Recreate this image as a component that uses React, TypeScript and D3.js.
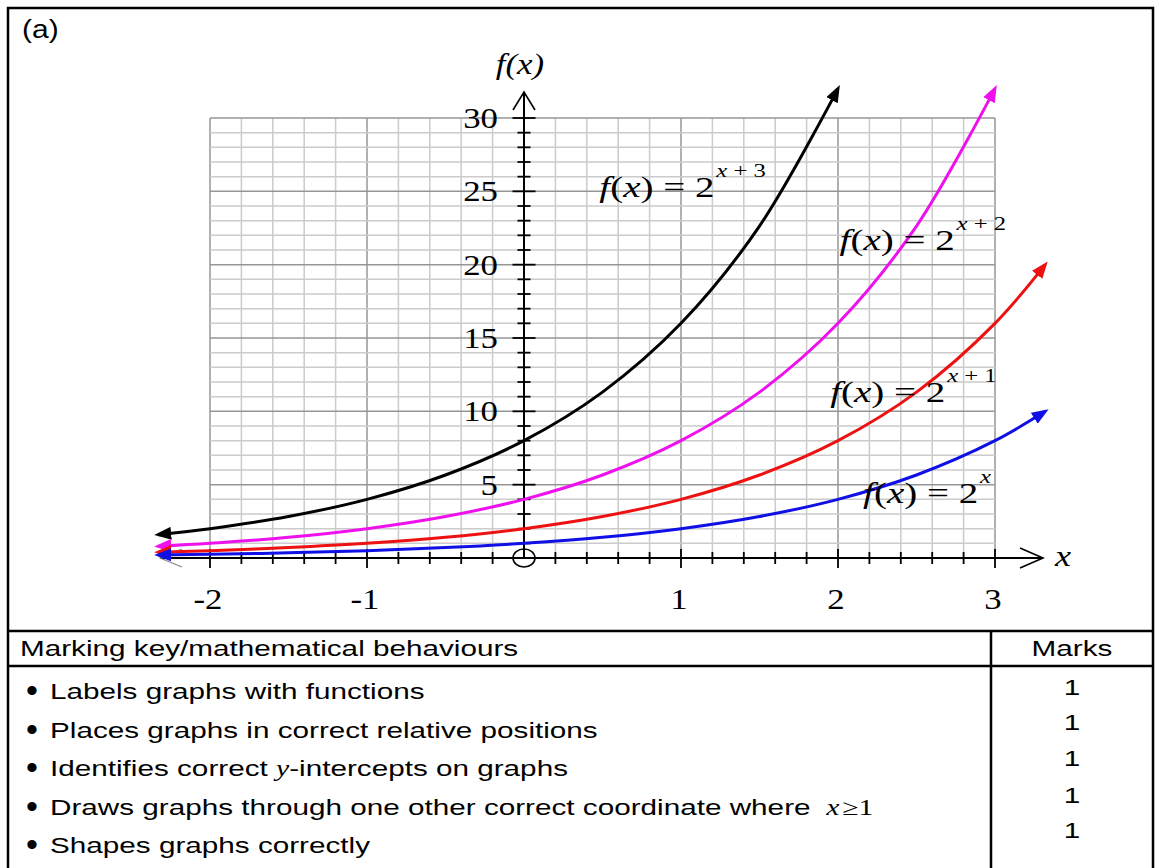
import React, { useRef, useEffect } from "react";
import * as d3 from "d3";

// tick labels
const xTickLabels = [-2, -1, 1, 2, 3];
const yTickLabels = [5, 10, 15, 20, 25, 30];

// sample x positions shared by the four curves
const xSamples = [-2.33, -2, -1.5, -1, -0.5, 0, 0.5, 1, 1.5, 2, 2.5, 3, 3.32];
// f(x) at those x
const blueVals = [0.2, 0.25, 0.35, 0.5, 0.71, 1, 1.41, 2, 2.83, 4, 5.66, 8, 10];
const redVals = [0.4, 0.5, 0.71, 1, 1.41, 2, 2.83, 4, 5.66, 8, 11.31, 16, 20];
const magentaVals = [0.8, 1, 1.41, 2, 2.83, 4, 5.66, 8, 11.31, 16, 22.63, 32];
const blackVals = [1.59, 2, 2.83, 4, 5.66, 8, 11.31, 16, 22.63, 32];
const exponents = ["x", "x + 1", "x + 2", "x + 3"];

// table
const criteria = [
  "Labels graphs with functions",
  "Places graphs in correct relative positions",
  "Identifies correct y-intercepts on graphs",
  "Draws graphs through one other correct coordinate where",
  "Shapes graphs correctly",
];
const marks = [1, 1, 1, 1, 1];

const SANS = "'Liberation Sans', Arial, sans-serif";
const SERIF = "'Liberation Serif', 'Times New Roman', serif";
const colors = ["#1010e6", "#ee1111", "#ee11ee", "#000000"];
// label anchors (data units) for f(x) = 2^x ... 2^(x+3)
const labelAnchors = [[2.16, 3.75], [1.95, 10.63], [2.01, 21.0], [0.48, 24.6]];

export default function App() {
  const ref = useRef<SVGSVGElement>(null);

  useEffect(() => {
    document.body.style.margin = "0";
    const svg = d3.select(ref.current);
    svg.selectAll("*").remove();

    const x = d3.scaleLinear().domain([-2, 3]).range([210, 995]);
    const y = d3.scaleLinear().domain([0, 30]).range([558, 118]);

    const txt = (g: any, tx: number, ty: number, sx: number, size: number, family: string, anchor = "start") =>
      g.append("text")
        .attr("transform", `translate(${tx},${ty}) scale(${sx},1)`)
        .attr("text-anchor", anchor)
        .style("font-family", family)
        .style("font-size", size + "px")
        .style("fill", "#000");

    // grid
    const grid = svg.append("g");
    d3.range(26).forEach(i => {
      const v = -2 + i * 0.2;
      grid.append("line")
        .attr("x1", x(v)).attr("x2", x(v)).attr("y1", y(30)).attr("y2", y(0))
        .attr("stroke", i % 5 === 0 ? "#969696" : "#cbcbcb").attr("stroke-width", 1.5);
    });
    d3.range(1, 31).forEach(v => {
      grid.append("line")
        .attr("x1", x(-2)).attr("x2", x(3)).attr("y1", y(v)).attr("y2", y(v))
        .attr("stroke", v % 5 === 0 ? "#969696" : "#cbcbcb").attr("stroke-width", 1.5);
    });

    // axes
    const ax = svg.append("g").attr("stroke", "#000").attr("fill", "none");
    ax.append("line").attr("x1", x(0)).attr("x2", x(0)).attr("y1", y(0)).attr("y2", 92).attr("stroke-width", 2);
    ax.append("path").attr("d", `M${x(0) - 11},110 L${x(0)},92 L${x(0) + 11},110`).attr("stroke-width", 1.6);
    ax.append("line").attr("x1", 160).attr("x2", 1043).attr("y1", y(0)).attr("y2", y(0)).attr("stroke-width", 2);
    ax.append("path").attr("d", `M1020,${y(0) - 10} L1043,${y(0)} L1020,${y(0) + 10}`).attr("stroke-width", 1.6);
    ax.append("path").attr("d", `M182,${y(0) - 9} L160,${y(0)} L182,${y(0) + 9}`).attr("stroke", "#888").attr("stroke-width", 1.2);
    d3.range(1, 31).forEach(v => {
      const h = v % 5 === 0 ? 11.5 : 6.5;
      ax.append("line").attr("x1", x(0) - h).attr("x2", x(0) + h).attr("y1", y(v)).attr("y2", y(v)).attr("stroke-width", 1.8);
    });
    d3.range(26).forEach(i => {
      if (i === 10) return;
      const v = -2 + i * 0.2;
      const major = i % 5 === 0;
      ax.append("line").attr("x1", x(v)).attr("x2", x(v))
        .attr("y1", y(0) - (major ? 9 : 6)).attr("y2", y(0) + (major ? 10 : 6)).attr("stroke-width", 1.8);
    });
    ax.append("ellipse").attr("cx", x(0)).attr("cy", y(0)).attr("rx", 11).attr("ry", 9).attr("stroke-width", 1.6);

    // tick labels
    yTickLabels.forEach(v => txt(svg, 498, y(v) + 10, 1.2, 29, SERIF, "end").text(v));
    xTickLabels.forEach(v => txt(svg, x(v) - 2, 609, 1.2, 29, SERIF, "middle").text(v));
    txt(svg, 520, 74, 1.2, 29, SERIF, "middle").style("font-style", "italic").text("f(x)");
    txt(svg, 1063, 566, 1.2, 30, SERIF, "middle").style("font-style", "italic").text("x");

    // curves
    const defs = svg.append("defs");
    colors.forEach((c, i) => {
      defs.append("marker")
        .attr("id", "arr" + i).attr("markerUnits", "userSpaceOnUse")
        .attr("markerWidth", 17).attr("markerHeight", 13)
        .attr("refX", 13).attr("refY", 6.5).attr("orient", "auto-start-reverse")
        .append("path").attr("d", "M0,0 L17,6.5 L0,13 Z").attr("fill", c);
    });
    const line = d3.line<number>()
      .x((d, i) => x(xSamples[i]))
      .y(d => y(d))
      .curve(d3.curveCatmullRom.alpha(0.5));
    const series = [blueVals, redVals, magentaVals, blackVals];
    [3, 2, 1, 0].forEach(k => {
      svg.append("path")
        .attr("d", line(series[k]))
        .attr("fill", "none")
        .attr("stroke", colors[k])
        .attr("stroke-width", 3)
        .attr("marker-start", `url(#arr${k})`)
        .attr("marker-end", `url(#arr${k})`);
    });

    // function labels
    exponents.forEach((e, k) => {
      const [lx, ly] = labelAnchors[k];
      const t = txt(svg, x(lx), y(ly), 1.3, 30, SERIF).attr("xml:space", "preserve");
      t.append("tspan").style("font-style", "italic").text("f");
      t.append("tspan").text("(");
      t.append("tspan").style("font-style", "italic").text("x");
      t.append("tspan").text(") = 2");
      const s = txt(svg, x(lx) + 117, y(ly) - 20, 1.3, 19, SERIF);
      s.append("tspan").style("font-style", "italic").text("x");
      if (e.length > 1) s.append("tspan").text(e.slice(1));
    });

    // frame and table
    const fr = svg.append("g").attr("stroke", "#000").attr("stroke-width", 2.5).attr("fill", "none");
    fr.append("rect").attr("x", 8).attr("y", 8).attr("width", 1145).attr("height", 875);
    fr.append("line").attr("x1", 8).attr("x2", 1153).attr("y1", 631).attr("y2", 631);
    fr.append("line").attr("x1", 8).attr("x2", 1153).attr("y1", 666).attr("y2", 666);
    fr.append("line").attr("x1", 991).attr("x2", 991).attr("y1", 631).attr("y2", 870);

    const ts = 1.32;
    txt(svg, 22, 38, 1.2, 25, SANS).text("(a)");
    txt(svg, 20, 656, ts, 22.5, SANS).text("Marking key/mathematical behaviours");
    txt(svg, 1072, 656, ts, 22.5, SANS, "middle").text("Marks");
    const rowY = [699, 738, 776, 815, 853];
    const markY = [695, 730, 766, 803, 838];
    criteria.forEach((c, i) => {
      txt(svg, 32, rowY[i] + 3, 1, 34, SANS, "middle").text("•");
      const t = txt(svg, 50, rowY[i], ts, 22.5, SANS);
      if (i === 2) {
        t.append("tspan").text("Identifies correct ");
        t.append("tspan").style("font-family", SERIF).style("font-style", "italic").text("y");
        t.append("tspan").text("-intercepts on graphs");
      } else if (i === 3) {
        t.append("tspan").text(c);
        t.append("tspan").attr("dx", 12).style("font-family", SERIF).style("font-style", "italic").text("x");
        t.append("tspan").attr("dx", 2).style("font-family", SERIF).text("≥1");
      } else {
        t.text(c);
      }
      txt(svg, 1072, markY[i], ts, 22.5, SANS, "middle").text(marks[i]);
    });
  }, []);

  return <svg ref={ref} width={1159} height={868} style={{ display: "block", background: "#fff" }} />;
}
